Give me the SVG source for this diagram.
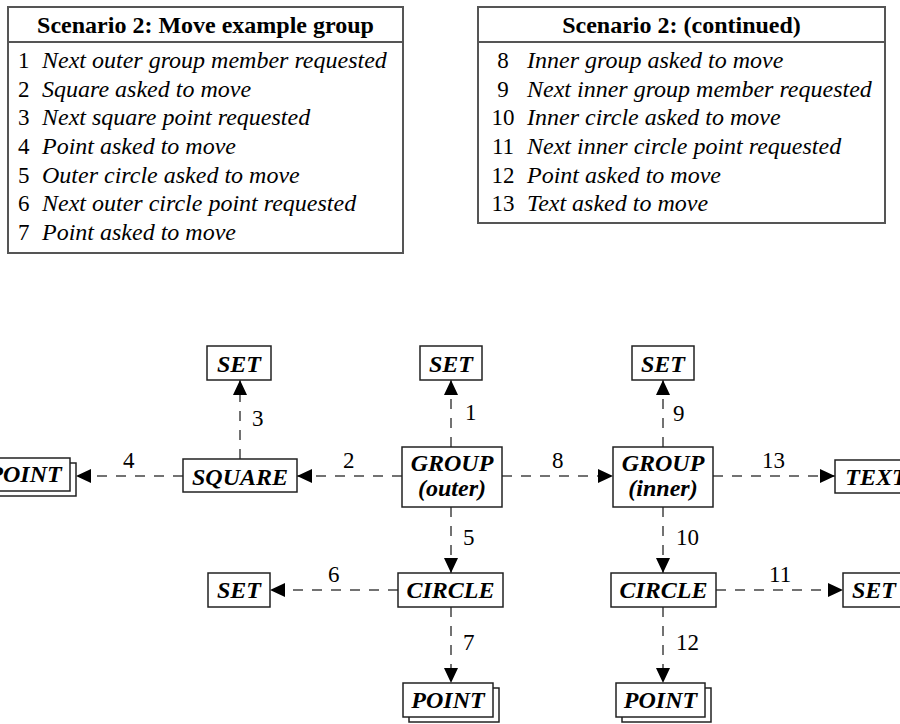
<svg xmlns="http://www.w3.org/2000/svg" width="900" height="724" viewBox="0 0 900 724">
  <defs>
    <style>
      .tbl { fill: #ffffff; stroke: #555555; stroke-width: 2; }
      .sep { stroke: #555555; stroke-width: 2; }
      .hdr { font-family: "Liberation Serif", "Times New Roman", serif; font-size: 24px; font-weight: bold; fill: #000; }
      .num { font-family: "Liberation Serif", "Times New Roman", serif; font-size: 23px; fill: #000; }
      .row { font-family: "Liberation Serif", "Times New Roman", serif; font-size: 24px; font-style: italic; fill: #000; }
      .box { fill: #ffffff; stroke: #222222; stroke-width: 1.5; }
      .lbl { font-family: "Liberation Serif", "Times New Roman", serif; font-size: 24px; font-weight: bold; font-style: italic; fill: #000; text-anchor: middle; }
      .edge { fill: none; stroke: #444444; stroke-width: 1.5; stroke-dasharray: 10 9; marker-end: url(#arrow); }
      .elbl { font-family: "Liberation Serif", "Times New Roman", serif; font-size: 23px; fill: #000; }
    </style>
    <marker id="arrow" markerUnits="userSpaceOnUse" markerWidth="16" markerHeight="16" refX="15" refY="7" orient="auto">
      <path d="M0,0 L15,7 L0,14 Z" fill="#000000"/>
    </marker>
  </defs>

  <rect width="900" height="724" fill="#ffffff"/>

  <!-- Legend tables -->
  <g id="legend-left">
    <rect class="tbl" x="8" y="7" width="395" height="246"/>
    <line class="sep" x1="8" y1="42" x2="403" y2="42"/>
    <text class="hdr" x="205.5" y="33" text-anchor="middle">Scenario 2: Move example group</text>
    <text class="num" x="18" y="68">1</text><text class="row" x="42" y="68">Next outer group member requested</text>
    <text class="num" x="18" y="96.7">2</text><text class="row" x="42" y="96.7">Square asked to move</text>
    <text class="num" x="18" y="125.3">3</text><text class="row" x="42" y="125.3">Next square point requested</text>
    <text class="num" x="18" y="154">4</text><text class="row" x="42" y="154">Point asked to move</text>
    <text class="num" x="18" y="182.7">5</text><text class="row" x="42" y="182.7">Outer circle asked to move</text>
    <text class="num" x="18" y="211.3">6</text><text class="row" x="42" y="211.3">Next outer circle point requested</text>
    <text class="num" x="18" y="240">7</text><text class="row" x="42" y="240">Point asked to move</text>
  </g>

  <g id="legend-right">
    <rect class="tbl" x="478" y="7" width="407" height="216"/>
    <line class="sep" x1="478" y1="42" x2="885" y2="42"/>
    <text class="hdr" x="681.5" y="33" text-anchor="middle">Scenario 2: (continued)</text>
    <text class="num" x="503" y="68" text-anchor="middle">8</text><text class="row" x="527" y="68">Inner group asked to move</text>
    <text class="num" x="503" y="96.7" text-anchor="middle">9</text><text class="row" x="527" y="96.7">Next inner group member requested</text>
    <text class="num" x="503" y="125.3" text-anchor="middle">10</text><text class="row" x="527" y="125.3">Inner circle asked to move</text>
    <text class="num" x="503" y="154" text-anchor="middle">11</text><text class="row" x="527" y="154">Next inner circle point requested</text>
    <text class="num" x="503" y="182.7" text-anchor="middle">12</text><text class="row" x="527" y="182.7">Point asked to move</text>
    <text class="num" x="503" y="211.3" text-anchor="middle">13</text><text class="row" x="527" y="211.3">Text asked to move</text>
  </g>

  <!-- Connectors -->
  <g id="connectors">
    <line class="edge" x1="451" y1="447" x2="451" y2="380"/>
    <line class="edge" x1="402" y1="476" x2="297" y2="476"/>
    <line class="edge" x1="240" y1="459" x2="240" y2="380"/>
    <line class="edge" x1="183" y1="476" x2="76" y2="476"/>
    <line class="edge" x1="451" y1="507" x2="451" y2="573"/>
    <line class="edge" x1="398" y1="590" x2="270" y2="590"/>
    <line class="edge" x1="451" y1="607" x2="451" y2="683"/>
    <line class="edge" x1="502" y1="476" x2="613" y2="476"/>
    <line class="edge" x1="663" y1="447" x2="663" y2="380"/>
    <line class="edge" x1="663" y1="507" x2="663" y2="573"/>
    <line class="edge" x1="716" y1="590" x2="843" y2="590"/>
    <line class="edge" x1="663" y1="607" x2="663" y2="683"/>
    <line class="edge" x1="713" y1="476" x2="835" y2="476"/>

    <text class="elbl" x="465" y="420">1</text>
    <text class="elbl" x="343" y="468">2</text>
    <text class="elbl" x="252" y="426">3</text>
    <text class="elbl" x="123" y="468">4</text>
    <text class="elbl" x="463" y="545">5</text>
    <text class="elbl" x="328" y="582">6</text>
    <text class="elbl" x="463" y="650">7</text>
    <text class="elbl" x="552" y="468">8</text>
    <text class="elbl" x="673" y="421">9</text>
    <text class="elbl" x="676" y="545">10</text>
    <text class="elbl" x="769" y="582">11</text>
    <text class="elbl" x="676" y="650">12</text>
    <text class="elbl" x="762" y="468">13</text>
  </g>

  <!-- Nodes -->
  <g id="set-square">
    <rect class="box" x="207" y="346" width="64" height="34"/>
    <text class="lbl" x="239" y="372">SET</text>
  </g>
  <g id="set-outer">
    <rect class="box" x="420" y="346" width="62" height="34"/>
    <text class="lbl" x="451" y="372">SET</text>
  </g>
  <g id="set-inner">
    <rect class="box" x="632" y="346" width="62" height="34"/>
    <text class="lbl" x="663" y="372">SET</text>
  </g>

  <g id="point-left">
    <rect class="box" x="-14" y="463" width="90" height="33"/>
    <rect class="box" x="-20" y="458" width="90" height="33"/>
    <text class="lbl" x="25" y="482">POINT</text>
  </g>
  <g id="square">
    <rect class="box" x="183" y="459" width="114" height="33"/>
    <text class="lbl" x="240" y="485">SQUARE</text>
  </g>
  <g id="group-outer">
    <rect class="box" x="402" y="447" width="100" height="60"/>
    <text class="lbl" x="452" y="471">GROUP</text>
    <text class="lbl" x="452" y="496">(outer)</text>
  </g>
  <g id="group-inner">
    <rect class="box" x="613" y="447" width="100" height="60"/>
    <text class="lbl" x="663" y="471">GROUP</text>
    <text class="lbl" x="663" y="496">(inner)</text>
  </g>
  <g id="text-node">
    <rect class="box" x="835" y="460" width="84" height="33"/>
    <text class="lbl" x="876" y="485">TEXT</text>
  </g>

  <g id="set-circle-outer">
    <rect class="box" x="208" y="573" width="62" height="34"/>
    <text class="lbl" x="239" y="598">SET</text>
  </g>
  <g id="circle-outer">
    <rect class="box" x="398" y="573" width="105" height="34"/>
    <text class="lbl" x="450.5" y="598">CIRCLE</text>
  </g>
  <g id="circle-inner">
    <rect class="box" x="611" y="573" width="105" height="34"/>
    <text class="lbl" x="663.5" y="598">CIRCLE</text>
  </g>
  <g id="set-circle-inner">
    <rect class="box" x="843" y="573" width="62" height="34"/>
    <text class="lbl" x="874" y="598">SET</text>
  </g>

  <g id="point-outer">
    <rect class="box" x="409" y="688" width="90" height="34"/>
    <rect class="box" x="403" y="683" width="90" height="34"/>
    <text class="lbl" x="448" y="708">POINT</text>
  </g>
  <g id="point-inner">
    <rect class="box" x="622" y="688" width="89" height="34"/>
    <rect class="box" x="616" y="683" width="89" height="34"/>
    <text class="lbl" x="660.5" y="708">POINT</text>
  </g>
</svg>
